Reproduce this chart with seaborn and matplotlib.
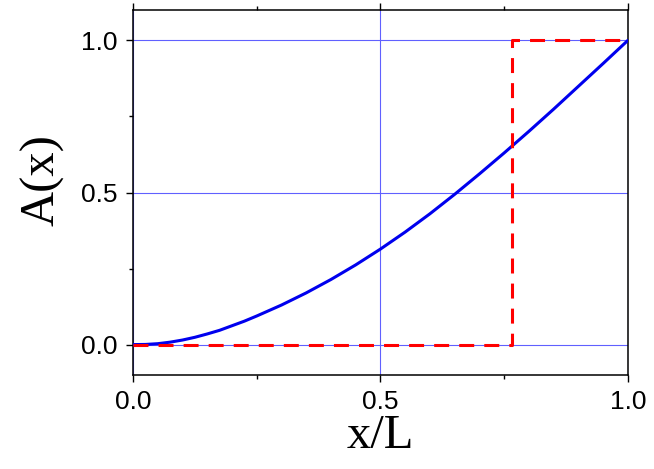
import numpy as np
import pandas as pd
import matplotlib
matplotlib.use('Agg')
import matplotlib.pyplot as plt
import seaborn as sns
from matplotlib.ticker import MultipleLocator

sns.set_style('white')

# values
x_curve = [0.0, 0.025, 0.05, 0.075, 0.1, 0.125, 0.15, 0.175, 0.2, 0.225, 0.25, 0.3, 0.35,
           0.4, 0.45, 0.5, 0.55, 0.6, 0.65, 0.7, 0.75, 0.8, 0.85, 0.9, 0.95, 1.0]
a_curve = [0.0, 0.0005, 0.003, 0.008, 0.015, 0.024, 0.035, 0.047, 0.062, 0.077, 0.094, 0.130,
           0.170, 0.214, 0.262, 0.314, 0.370, 0.430, 0.494, 0.561, 0.630, 0.701, 0.774,
           0.849, 0.924, 1.0]

x_step = [0.0, 0.765, 0.765, 1.0]
a_step = [0.0, 0.0, 1.0, 1.0]

tick_vals = [0.0, 0.5, 1.0]
tick_labels = ['0.0', '0.5', '1.0']

df_curve = pd.DataFrame({'x': x_curve, 'A': a_curve})
df_step = pd.DataFrame({'x': x_step, 'A': a_step})

fig = plt.figure(figsize=(6.54, 4.69), dpi=100)
ax = fig.add_axes([0.2034, 0.2004, 0.7566, 0.7783])

sns.lineplot(data=df_curve, x='x', y='A', ax=ax, color='#0000ee', linewidth=2.2,
             sort=False, estimator=None, zorder=3)
sns.lineplot(data=df_step, x='x', y='A', ax=ax, color='#ff0000', linewidth=2.2,
             sort=False, estimator=None, zorder=4)
ax.lines[-1].set_linestyle((0, (4.9, 3.3)))

ax.set_xlim(0, 1)
ax.set_ylim(-0.1, 1.1)

ax.set_xticks(tick_vals)
ax.set_xticklabels(tick_labels)
ax.set_yticks(tick_vals)
ax.set_yticklabels(tick_labels)
ax.xaxis.set_minor_locator(MultipleLocator(0.25))
ax.yaxis.set_minor_locator(MultipleLocator(0.25))

ax.grid(True, which='major', color='#6060ff', linewidth=0.8)
ax.set_axisbelow(True)

for side in ['left', 'right', 'top', 'bottom']:
    ax.spines[side].set_color('black')
    ax.spines[side].set_linewidth(1.1)

ax.tick_params(which='both', direction='out', top=True, bottom=True, left=True, right=False,
               color='black', width=1.0)
ax.tick_params(which='major', length=5)
ax.tick_params(which='minor', length=3)
ax.tick_params(axis='both', labelsize=19, pad=6, labelcolor='black')
for lbl in ax.get_xticklabels() + ax.get_yticklabels():
    lbl.set_family('Liberation Sans')

ax.set_xlabel('x/L', family='Liberation Serif', fontsize=35, labelpad=0, color='black')
ax.set_ylabel('A(x)', family='Liberation Serif', fontsize=35, labelpad=12, color='black')
ax.yaxis.label.set_y(0.534)

fig.savefig('out.png', dpi=100)
